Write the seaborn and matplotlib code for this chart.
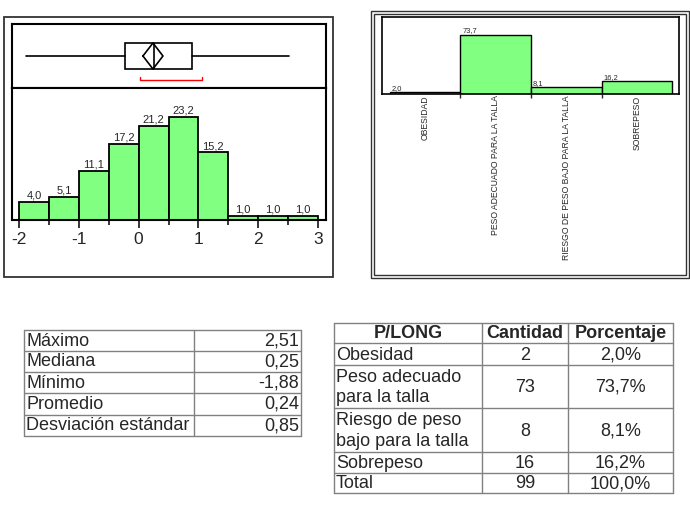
import numpy as np
import matplotlib
matplotlib.use("Agg")
import matplotlib.pyplot as plt
import seaborn as sns
from matplotlib.patches import Rectangle

# ---- data ----
hist_edges = [-2.0, -1.5, -1.0, -0.5, 0.0, 0.5, 1.0, 1.5, 2.0, 2.5, 3.0]
hist_pct = [4.0, 5.1, 11.1, 17.2, 21.2, 23.2, 15.2, 1.0, 1.0, 1.0]
hist_labels = ["4,0", "5,1", "11,1", "17,2", "21,2", "23,2", "15,2", "1,0", "1,0", "1,0"]

box_min, box_q1, box_med, box_q3, box_max = -1.88, -0.23, 0.25, 0.89, 2.51
box_mean, box_sd, box_n = 0.24, 0.85, 99
short_half = (0.02, 1.06)

cat_labels = ["OBESIDAD", "PESO ADECUADO PARA LA TALLA",
              "RIESGO DE PESO BAJO PARA LA TALLA", "SOBREPESO"]
cat_pct = [2.0, 73.7, 8.1, 16.2]
cat_pct_labels = ["2,0", "73,7", "8,1", "16,2"]

stats_names = ["Máximo", "Mediana", "Mínimo", "Promedio", "Desviación estándar"]
stats_values = ["2,51", "0,25", "-1,88", "0,24", "0,85"]

tab_header = ["P/LONG", "Cantidad", "Porcentaje"]
tab_names = ["Obesidad", "Peso adecuado\npara la talla",
             "Riesgo de peso\nbajo para la talla", "Sobrepeso", "Total"]
tab_counts = ["2", "73", "8", "16", "99"]
tab_pcts = ["2,0%", "73,7%", "8,1%", "16,2%", "100,0%"]

# ---- style ----
sns.set_style("white")
plt.rcParams['font.family'] = ['Liberation Sans', 'DejaVu Sans']
GREEN = "#80FF80"

W, H = 690, 516
fig = plt.figure(figsize=(W / 100, H / 100), dpi=100)


def px_axes(x0, y0, x1, y1, **kw):
    return fig.add_axes([x0 / W, 1 - y1 / H, (x1 - x0) / W, (y1 - y0) / H], **kw)


# background overlay in pixel coordinates (frames and tables)
bg = px_axes(0, 0, W, H)
bg.set_xlim(0, W)
bg.set_ylim(H, 0)
bg.axis("off")

# frames
bg.add_patch(Rectangle((4, 17), 329, 260, fill=False, ec="#333333", lw=1.3))
bg.add_patch(Rectangle((370.5, 10.5), 318, 267, fill=False, ec="#333333", lw=1.0))
bg.add_patch(Rectangle((373.5, 13.5), 312, 261, fill=False, ec="#333333", lw=1.0))

# ---- left: box plot ----
xlim = (-2 - 7 / 60, 3 + 8 / 60)
ax_box = px_axes(12, 24, 326, 88)
stats = [dict(whislo=box_min, q1=box_q1, med=box_med, q3=box_q3, whishi=box_max)]
ax_box.bxp(stats, positions=[0.5], widths=0.406, orientation="horizontal",
           showfliers=False, showcaps=False, patch_artist=True,
           boxprops=dict(facecolor="white", edgecolor="black", linewidth=1.2),
           whiskerprops=dict(color="black", linewidth=1.2),
           medianprops=dict(color="black", linewidth=1.2))
ci = 1.96 * box_sd / np.sqrt(box_n)
ax_box.plot([box_mean - ci, box_mean, box_mean + ci, box_mean, box_mean - ci],
            [0.5, 0.703, 0.5, 0.297, 0.5], color="black", lw=1.2)
ax_box.plot([short_half[0], short_half[0], short_half[1], short_half[1]],
            [0.17, 0.125, 0.125, 0.17], color="red", lw=1.0)
ax_box.set_xlim(*xlim)
ax_box.set_ylim(0, 1)
ax_box.set_xticks([])
ax_box.set_yticks([])
for s in ax_box.spines.values():
    s.set_color("black")
    s.set_linewidth(1.5)

# ---- left: histogram ----
ax_hist = px_axes(12, 88, 326, 220)
centers = [(a + b) / 2 for a, b in zip(hist_edges[:-1], hist_edges[1:])]
sns.histplot(x=centers, weights=hist_pct, bins=hist_edges, ax=ax_hist,
             color=GREEN, edgecolor="black", linewidth=1.3, alpha=1)
ax_hist.bar_label(ax_hist.containers[0], labels=hist_labels, fontsize=8, padding=1)
ax_hist.set_xlim(*xlim)
ax_hist.set_ylim(0, 29.7)
ax_hist.set_yticks([])
ax_hist.set_ylabel("")
ax_hist.set_xticks([-2, -1, 0, 1, 2, 3])
ax_hist.set_xticklabels(["-2", "-1", "0", "1", "2", "3"])
ax_hist.set_xticks(hist_edges, minor=True)
ax_hist.tick_params(axis="x", which="major", direction="out", length=6, width=1.3,
                    labelsize=12.5, pad=3, bottom=True)
ax_hist.tick_params(axis="x", which="minor", direction="out", length=3.6, width=1.3,
                    bottom=True)
for s in ax_hist.spines.values():
    s.set_color("black")
    s.set_linewidth(1.5)

# ---- right: category bars ----
ax_bar = px_axes(382, 17, 679, 94)
sns.barplot(x=cat_labels, y=cat_pct, ax=ax_bar, color=GREEN, edgecolor="black",
            linewidth=1.0, width=1, saturation=1)
ax_bar.set_xlim(-0.5 - 8 / 70.6, 3.5 + 7 / 70.6)
ax_bar.set_ylim(0, 95.6)
ax_bar.set_yticks([])
ax_bar.set_xticks(range(len(cat_labels)))
ax_bar.set_xticklabels(cat_labels, rotation=90, va="top", ha="center", fontsize=6.2)
ax_bar.set_xticks([0.5, 1.5, 2.5], minor=True)
ax_bar.tick_params(axis="x", which="major", length=0, pad=1)
ax_bar.tick_params(axis="x", which="minor", length=3, width=1.0, direction="out",
                   bottom=True)
for bar, lab in zip(ax_bar.patches, cat_pct_labels):
    ax_bar.text(bar.get_x() + 0.03, bar.get_height() + 0.5, lab, ha="left",
                va="bottom", fontsize=5.4)
for s in ax_bar.spines.values():
    s.set_color("black")
    s.set_linewidth(1.2)

# ---- tables ----
GRID = "#808080"
FS = 13

# left stats table
lx = [24, 194, 301]
ly = [330, 351, 372, 393, 414.5, 436]
for y in ly:
    bg.plot([lx[0], lx[-1]], [y, y], color=GRID, lw=1)
for x in lx:
    bg.plot([x, x], [ly[0], ly[-1]], color=GRID, lw=1)
for i, (n, v) in enumerate(zip(stats_names, stats_values)):
    yc = (ly[i] + ly[i + 1]) / 2 + 0.5
    bg.text(lx[0] + 2, yc, n, ha="left", va="center", fontsize=FS)
    bg.text(lx[2] - 2, yc, v, ha="right", va="center", fontsize=FS)

# right frequency table
rx = [334, 482, 568, 673]
ry = [323, 343, 365, 408, 452, 473, 493]
for y in ry:
    bg.plot([rx[0], rx[-1]], [y, y], color=GRID, lw=1)
for x in rx:
    bg.plot([x, x], [ry[0], ry[-1]], color=GRID, lw=1)
yc = (ry[0] + ry[1]) / 2 + 0.5
for j, h in enumerate(tab_header):
    bg.text((rx[j] + rx[j + 1]) / 2, yc, h, ha="center", va="center",
            fontsize=FS, fontweight="bold")
for i in range(len(tab_names)):
    yc = (ry[i + 1] + ry[i + 2]) / 2 + 1
    bg.text(rx[0] + 2, yc, tab_names[i], ha="left", va="center", fontsize=FS,
            linespacing=1.3)
    bg.text((rx[1] + rx[2]) / 2, yc, tab_counts[i], ha="center", va="center", fontsize=FS)
    bg.text((rx[2] + rx[3]) / 2, yc, tab_pcts[i], ha="center", va="center", fontsize=FS)

fig.savefig("out.png", dpi=100)
